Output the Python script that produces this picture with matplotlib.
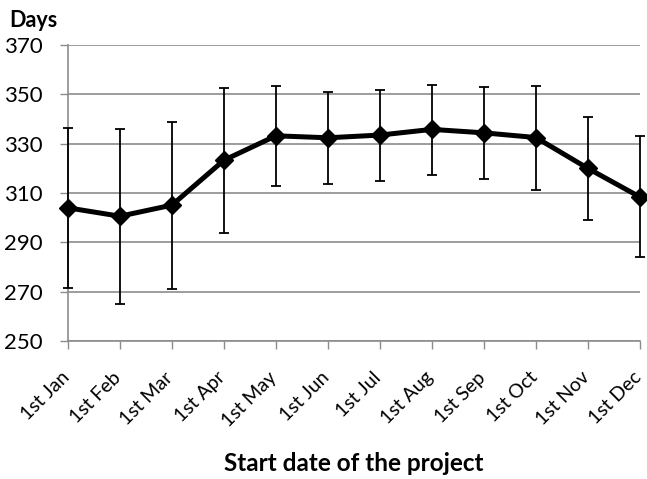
import matplotlib
matplotlib.use("Agg")
import matplotlib.pyplot as plt
import matplotlib.transforms as mtransforms
import numpy as np

months = ["1st Jan", "1st Feb", "1st Mar", "1st Apr", "1st May", "1st Jun",
          "1st Jul", "1st Aug", "1st Sep", "1st Oct", "1st Nov", "1st Dec"]
mean_days = [304.0, 300.6, 305.1, 323.3, 333.2, 332.4, 333.5, 335.8, 334.4, 332.5, 320.0, 308.4]
upper_days = [336.2, 335.8, 338.6, 352.5, 353.4, 350.9, 351.7, 353.8, 353.1, 353.4, 340.9, 333.1]
lower_days = [271.7, 265.2, 271.3, 293.7, 312.8, 313.5, 314.9, 317.5, 315.6, 311.3, 299.1, 284.1]
yticks = [250, 270, 290, 310, 330, 350, 370]

plt.rcParams['font.family'] = ['Lato', 'DejaVu Sans']

fig = plt.figure(figsize=(6.47, 4.79), dpi=100)
ax = fig.add_axes([0.105, 0.288, 0.884, 0.618])

x = np.arange(len(months))
mean = np.array(mean_days)
yerr = np.vstack([mean - np.array(lower_days), np.array(upper_days) - mean])

ax.errorbar(x, mean, yerr=yerr, fmt='none', ecolor='black', elinewidth=1.3,
            capsize=3.5, capthick=1.3, zorder=3, clip_on=False)
ax.plot(x, mean, color='black', lw=3.6, marker='D', markersize=9,
        zorder=4, clip_on=False)

ax.set_xlim(0, len(months) - 1)
ax.set_ylim(250, 370)
ax.set_yticks(yticks)
ax.set_xticks(x)
ax.tick_params(axis='y', labelsize=16, length=6, width=1, color='#8c8c8c', pad=12)
ax.tick_params(axis='x', length=6, width=1, color='#8c8c8c', pad=14)
labels = ax.set_xticklabels(months, rotation=45, ha='right', va='top', fontsize=14)
offset = mtransforms.ScaledTranslation(0.045, 0, fig.dpi_scale_trans)
for lab in labels:
    lab.set_transform(lab.get_transform() + offset)

ax.grid(axis='y', color='#8c8c8c', lw=1.2)
ax.set_axisbelow(True)
for s in ['top', 'right']:
    ax.spines[s].set_visible(False)
for s in ['left', 'bottom']:
    ax.spines[s].set_color('#8c8c8c')
    ax.spines[s].set_linewidth(1.2)

fig.text(0.015, 0.944, "Days", fontsize=15.5, fontweight='bold', ha='left', va='baseline')
fig.text(0.547, 0.016, "Start date of the project", fontsize=17.5, fontweight='bold',
         ha='center', va='baseline')

fig.savefig("out.png", dpi=100)
